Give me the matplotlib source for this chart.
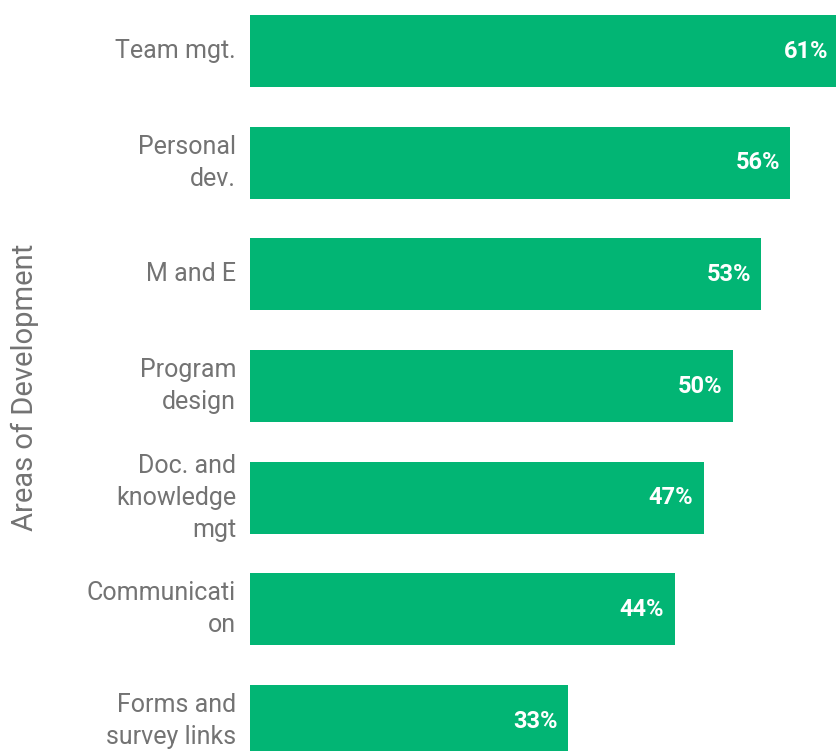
import matplotlib
matplotlib.use("Agg")
import matplotlib.pyplot as plt

categories = ["Team mgt.", "Personal\ndev.", "M and E", "Program\ndesign",
              "Doc. and\nknowledge\nmgt", "Communicati\non", "Forms and\nsurvey links"]
values = [61, 56, 53, 50, 47, 44, 33]
value_labels = ["61%", "56%", "53%", "50%", "47%", "44%", "33%"]

BAR_COLOR = "#02b574"
TEXT_GRAY = "#737373"

plt.rcParams["font.family"] = ["Roboto", "DejaVu Sans"]

W, H, DPI = 837, 751, 100
fig = plt.figure(figsize=(W / DPI, H / DPI), dpi=DPI)
ax = fig.add_axes([250 / W, 0, 1 - 250 / W, 1])

px_per_unit = 9.65
ax.set_xlim(0, (W - 250) / px_per_unit)
pitch = 111.67
top_center = 51
ax.set_ylim((H - top_center) / pitch, -top_center / pitch)

ypos = list(range(len(categories)))
ax.barh(ypos, values, height=72 / pitch, color=BAR_COLOR, edgecolor="none")

for y, v, lab in zip(ypos, values, value_labels):
    ax.annotate(lab, xy=(v, y), xytext=(-7.5, 0), textcoords="offset points",
                ha="right", va="center", color="white", fontsize=17,
                fontweight="bold", annotation_clip=False)

ax.set_yticks(ypos)
ax.set_yticklabels(categories, fontsize=18, color=TEXT_GRAY, linespacing=1.42)
ax.tick_params(axis="y", length=0, pad=10)
ax.set_xticks([])
for s in ax.spines.values():
    s.set_visible(False)
for t in ax.get_yticklabels():
    t.set_horizontalalignment("right")
    t.set_multialignment("right")
    t.set_verticalalignment("center")

fig.text(25 / W, 1 - 387 / H, "Areas of Development", rotation=90,
         ha="center", va="center", fontsize=21, color=TEXT_GRAY)

fig.savefig("out.png", dpi=DPI)
